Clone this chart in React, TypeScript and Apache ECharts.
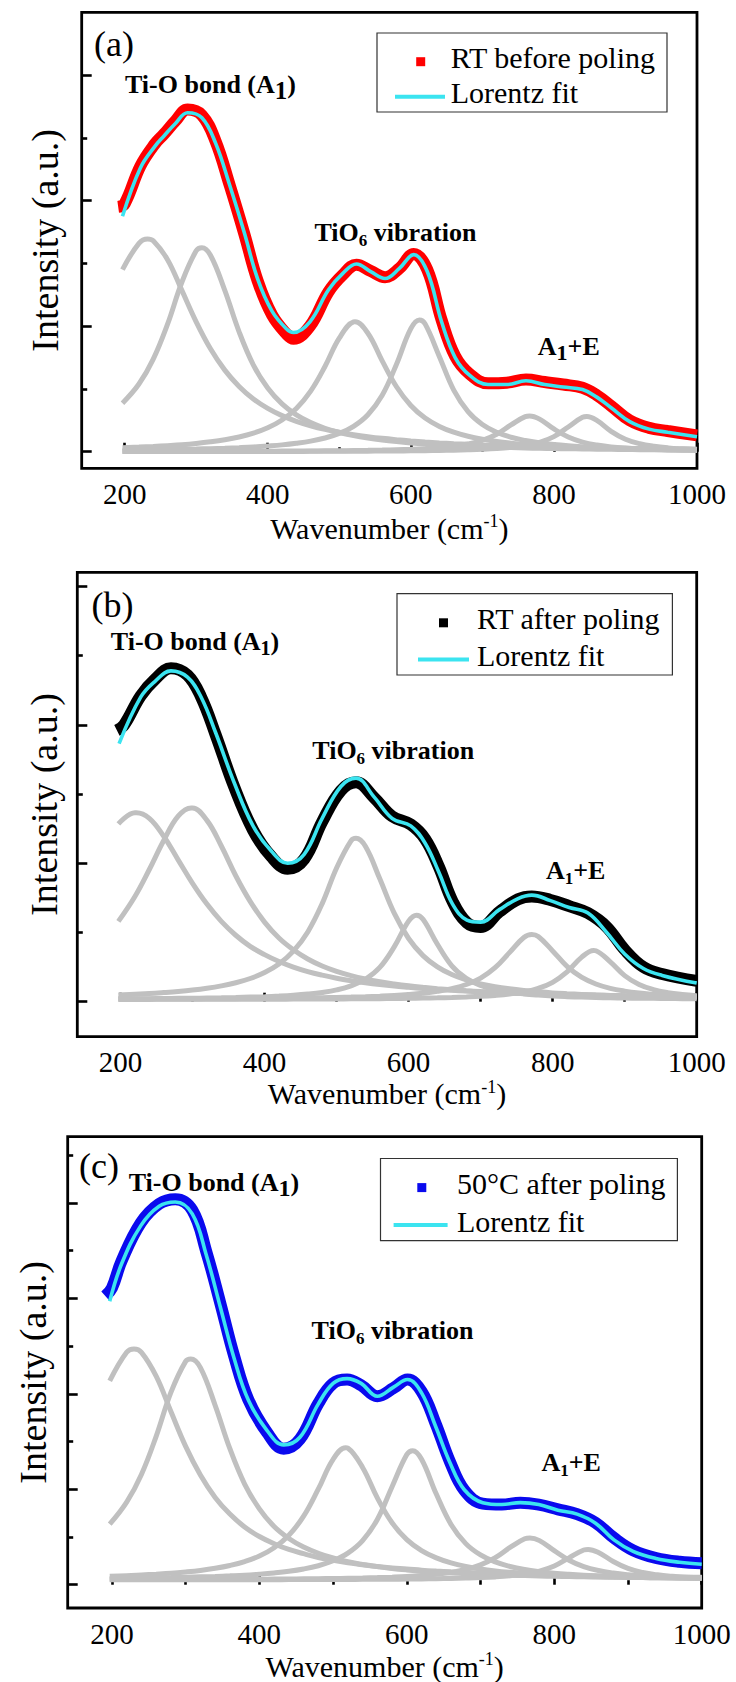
import React, { useEffect, useRef } from 'react';
import * as echarts from 'echarts';

const FONT = 'Liberation Serif';
const GRAY = '#c0c0c0';
const CYAN = '#3be4f0';

// shared wavenumber grid for the Lorentz components
const GRID_X = [197, 220, 240, 260, 280, 300, 320, 340, 360, 380, 400, 420, 440, 460, 480, 500, 520, 540, 560, 580, 600, 620, 640, 660, 680, 700, 720, 740, 760, 780, 800, 820, 840, 860, 880, 900, 920, 940, 960, 980, 1000];
const X_MAJOR = [200, 400, 600, 800, 1000];
const X_MINOR = [300, 500, 700, 900];

// ---------- panel (a) ----------
const a1 = [2.90, 3.32, 3.36, 3.06, 2.57, 2.07, 1.64, 1.30, 1.04, 0.84, 0.69, 0.575, 0.485, 0.414, 0.356, 0.310, 0.272, 0.240, 0.213, 0.191, 0.172, 0.155, 0.141, 0.129, 0.118, 0.108, 0.100, 0.092, 0.086, 0.080, 0.074, 0.069, 0.065, 0.061, 0.057, 0.054, 0.051, 0.048, 0.046, 0.043, 0.041];
const a2 = [0.773, 1.078, 1.475, 2.032, 2.70, 3.20, 3.13, 2.57, 1.91, 1.38, 1.015, 0.762, 0.587, 0.464, 0.374, 0.307, 0.256, 0.217, 0.186, 0.161, 0.140, 0.123, 0.110, 0.098, 0.088, 0.079, 0.072, 0.066, 0.060, 0.055, 0.051, 0.047, 0.044, 0.040, 0.038, 0.035, 0.033, 0.031, 0.029, 0.027, 0.026];
const a3 = [0.064, 0.074, 0.084, 0.097, 0.112, 0.132, 0.158, 0.191, 0.235, 0.296, 0.382, 0.506, 0.690, 0.966, 1.358, 1.809, 2.068, 1.888, 1.448, 1.035, 0.737, 0.537, 0.403, 0.311, 0.246, 0.199, 0.164, 0.137, 0.116, 0.100, 0.086, 0.076, 0.067, 0.059, 0.053, 0.048, 0.043, 0.039, 0.036, 0.033, 0.030];
const a4 = [0.024, 0.027, 0.030, 0.034, 0.038, 0.043, 0.049, 0.056, 0.065, 0.076, 0.091, 0.109, 0.135, 0.169, 0.219, 0.292, 0.405, 0.590, 0.899, 1.394, 1.961, 2.036, 1.514, 0.982, 0.640, 0.435, 0.311, 0.231, 0.178, 0.141, 0.114, 0.094, 0.079, 0.067, 0.058, 0.050, 0.044, 0.039, 0.035, 0.031, 0.028];
const a5 = [0.004, 0.004, 0.004, 0.005, 0.005, 0.005, 0.006, 0.006, 0.007, 0.008, 0.009, 0.010, 0.011, 0.012, 0.014, 0.016, 0.019, 0.022, 0.026, 0.032, 0.039, 0.049, 0.064, 0.087, 0.123, 0.181, 0.279, 0.427, 0.560, 0.520, 0.363, 0.234, 0.154, 0.106, 0.077, 0.058, 0.045, 0.036, 0.029, 0.024, 0.020];
const a6 = [0.002, 0.002, 0.002, 0.003, 0.003, 0.003, 0.003, 0.004, 0.004, 0.004, 0.005, 0.005, 0.005, 0.006, 0.007, 0.007, 0.008, 0.009, 0.011, 0.012, 0.014, 0.017, 0.020, 0.025, 0.031, 0.039, 0.051, 0.070, 0.100, 0.150, 0.241, 0.394, 0.548, 0.499, 0.325, 0.198, 0.127, 0.086, 0.061, 0.046, 0.035];
const aPeaks = [[232, 3.39], [308, 3.25], [522, 2.07], [612, 2.10], [766, 0.57], [846, 0.56]];
const fitA = [[197, 3.75], [222, 4.52], [242, 4.86], [255, 5.03], [271, 5.23], [288, 5.40], [308, 5.32], [327, 4.92], [347, 4.24], [367, 3.50], [386, 2.75], [406, 2.24], [426, 1.96], [436, 1.90], [459, 2.07], [485, 2.58], [505, 2.84], [524, 2.99], [544, 2.87], [564, 2.76], [584, 2.92], [604, 3.14], [623, 2.87], [643, 2.07], [662, 1.50], [682, 1.22], [708, 1.07], [734, 1.07], [761, 1.13], [787, 1.07], [813, 1.03], [840, 0.99], [860, 0.87], [880, 0.70], [906, 0.48], [933, 0.36], [959, 0.31], [1000, 0.24]];
const dataA = [[191, 3.90], [200, 3.95], [222, 4.55], [242, 4.90], [255, 5.06], [271, 5.27], [288, 5.45], [308, 5.36], [327, 4.95], [347, 4.24], [367, 3.48], [386, 2.72], [406, 2.18], [426, 1.88], [436, 1.80], [459, 2.00], [485, 2.55], [505, 2.82], [524, 2.98], [544, 2.88], [564, 2.78], [584, 2.92], [604, 3.15], [623, 2.90], [643, 2.10], [662, 1.52], [682, 1.24], [708, 1.09], [734, 1.10], [761, 1.15], [787, 1.11], [813, 1.07], [840, 1.02], [860, 0.90], [880, 0.73], [906, 0.50], [933, 0.38], [959, 0.33], [1000, 0.26]];

// ---------- panel (b) ----------
const b1 = [2.57, 2.73, 2.65, 2.39, 2.05, 1.71, 1.41, 1.16, 0.96, 0.80, 0.68, 0.58, 0.50, 0.435, 0.383, 0.339, 0.303, 0.273, 0.247, 0.225, 0.207, 0.190, 0.176, 0.164, 0.153, 0.143, 0.135, 0.127, 0.120, 0.114, 0.108, 0.103, 0.099, 0.095, 0.091, 0.087, 0.084, 0.081, 0.079, 0.076, 0.074];
const b2 = [1.16, 1.52, 1.91, 2.33, 2.68, 2.80, 2.62, 2.25, 1.82, 1.45, 1.15, 0.92, 0.75, 0.617, 0.516, 0.438, 0.377, 0.328, 0.288, 0.256, 0.229, 0.207, 0.188, 0.172, 0.158, 0.146, 0.136, 0.127, 0.119, 0.112, 0.105, 0.100, 0.095, 0.091, 0.087, 0.083, 0.080, 0.077, 0.074, 0.071, 0.069];
const b3 = [0.097, 0.108, 0.118, 0.132, 0.148, 0.168, 0.194, 0.228, 0.273, 0.335, 0.421, 0.545, 0.730, 1.008, 1.417, 1.933, 2.325, 2.245, 1.775, 1.279, 0.913, 0.666, 0.503, 0.392, 0.314, 0.258, 0.217, 0.186, 0.162, 0.143, 0.127, 0.115, 0.105, 0.096, 0.089, 0.083, 0.078, 0.074, 0.070, 0.066, 0.063];
const b4 = [0.041, 0.043, 0.044, 0.046, 0.048, 0.050, 0.053, 0.056, 0.060, 0.066, 0.072, 0.081, 0.093, 0.110, 0.134, 0.170, 0.228, 0.324, 0.495, 0.792, 1.164, 1.191, 0.830, 0.518, 0.337, 0.235, 0.175, 0.137, 0.112, 0.095, 0.082, 0.073, 0.066, 0.061, 0.056, 0.053, 0.050, 0.048, 0.046, 0.044, 0.043];
const b5 = [0.037, 0.038, 0.038, 0.039, 0.040, 0.040, 0.041, 0.042, 0.044, 0.045, 0.047, 0.049, 0.051, 0.054, 0.057, 0.061, 0.066, 0.072, 0.080, 0.090, 0.104, 0.123, 0.150, 0.189, 0.248, 0.341, 0.491, 0.709, 0.927, 0.941, 0.734, 0.510, 0.354, 0.256, 0.193, 0.153, 0.125, 0.106, 0.091, 0.081, 0.073];
const b6 = [0.033, 0.033, 0.033, 0.034, 0.034, 0.034, 0.034, 0.035, 0.035, 0.036, 0.036, 0.036, 0.037, 0.038, 0.039, 0.040, 0.041, 0.042, 0.044, 0.046, 0.049, 0.052, 0.056, 0.061, 0.068, 0.077, 0.091, 0.111, 0.142, 0.193, 0.280, 0.430, 0.640, 0.736, 0.576, 0.377, 0.248, 0.175, 0.131, 0.104, 0.086];
const bPeaks = [[222, 2.73], [298, 2.80], [527, 2.36], [611, 1.25], [771, 0.97], [857, 0.74]];
const fitB = [[198, 3.73], [228, 4.40], [248, 4.63], [270, 4.78], [293, 4.69], [312, 4.40], [332, 3.89], [358, 3.16], [384, 2.54], [409, 2.18], [432, 2.00], [455, 2.13], [480, 2.65], [506, 3.11], [527, 3.23], [552, 2.96], [577, 2.65], [603, 2.54], [623, 2.29], [642, 1.87], [661, 1.41], [681, 1.18], [700, 1.15], [726, 1.33], [752, 1.49], [771, 1.54], [797, 1.46], [823, 1.36], [849, 1.28], [875, 1.00], [900, 0.69], [926, 0.48], [952, 0.38], [1000, 0.27]];
const dataB = [[195, 3.92], [205, 4.00], [228, 4.42], [248, 4.66], [270, 4.82], [293, 4.72], [312, 4.40], [332, 3.86], [358, 3.10], [384, 2.48], [409, 2.10], [432, 1.92], [455, 2.06], [480, 2.60], [506, 3.05], [527, 3.17], [552, 2.95], [577, 2.68], [603, 2.56], [623, 2.35], [642, 1.95], [661, 1.45], [681, 1.14], [700, 1.08], [726, 1.30], [752, 1.48], [771, 1.52], [797, 1.47], [823, 1.38], [849, 1.28], [875, 1.08], [900, 0.75], [926, 0.50], [952, 0.40], [1000, 0.30]];

// ---------- panel (c) ----------
const c1 = [4.27, 4.87, 4.87, 4.37, 3.63, 2.90, 2.30, 1.83, 1.48, 1.21, 1.01, 0.86, 0.74, 0.65, 0.57, 0.51, 0.46, 0.42, 0.38, 0.35, 0.33, 0.305, 0.286, 0.270, 0.256, 0.243, 0.232, 0.222, 0.213, 0.205, 0.198, 0.192, 0.186, 0.181, 0.176, 0.171, 0.167, 0.164, 0.160, 0.157, 0.154];
const c2 = [1.27, 1.73, 2.31, 3.11, 4.03, 4.68, 4.55, 3.76, 2.85, 2.11, 1.59, 1.22, 0.97, 0.79, 0.66, 0.56, 0.48, 0.425, 0.38, 0.34, 0.31, 0.286, 0.265, 0.247, 0.232, 0.22, 0.209, 0.199, 0.191, 0.183, 0.177, 0.171, 0.166, 0.161, 0.157, 0.153, 0.150, 0.147, 0.144, 0.141, 0.139];
const c3 = [0.18, 0.19, 0.205, 0.221, 0.24, 0.267, 0.30, 0.344, 0.403, 0.484, 0.60, 0.774, 1.036, 1.436, 2.007, 2.628, 2.862, 2.458, 1.819, 1.298, 0.945, 0.715, 0.562, 0.457, 0.383, 0.329, 0.289, 0.259, 0.235, 0.216, 0.201, 0.188, 0.178, 0.169, 0.162, 0.156, 0.151, 0.146, 0.142, 0.139, 0.135];
const c4 = [0.132, 0.136, 0.140, 0.145, 0.150, 0.157, 0.165, 0.174, 0.186, 0.20, 0.221, 0.247, 0.281, 0.329, 0.398, 0.501, 0.662, 0.925, 1.368, 2.054, 2.727, 2.63, 1.90, 1.261, 0.861, 0.623, 0.477, 0.382, 0.318, 0.274, 0.241, 0.217, 0.198, 0.184, 0.172, 0.163, 0.155, 0.149, 0.144, 0.139, 0.135];
const c5 = [0.107, 0.107, 0.108, 0.108, 0.109, 0.110, 0.111, 0.112, 0.113, 0.114, 0.116, 0.118, 0.120, 0.123, 0.126, 0.130, 0.135, 0.141, 0.149, 0.159, 0.172, 0.191, 0.218, 0.258, 0.318, 0.415, 0.567, 0.781, 0.963, 0.924, 0.713, 0.514, 0.381, 0.297, 0.244, 0.209, 0.185, 0.168, 0.155, 0.146, 0.139];
const c6 = [0.103, 0.103, 0.103, 0.103, 0.104, 0.104, 0.104, 0.104, 0.105, 0.105, 0.106, 0.106, 0.107, 0.108, 0.108, 0.109, 0.110, 0.112, 0.114, 0.116, 0.118, 0.121, 0.126, 0.131, 0.139, 0.149, 0.164, 0.187, 0.223, 0.284, 0.391, 0.563, 0.727, 0.676, 0.487, 0.341, 0.256, 0.207, 0.177, 0.157, 0.144];
const cPeaks = [[230, 4.94], [307, 4.73], [517, 2.87], [608, 2.81], [767, 0.98], [846, 0.74]];
const fitC = [[197, 5.94], [213, 6.72], [239, 7.52], [264, 7.93], [286, 8.02], [309, 7.77], [328, 6.91], [347, 5.82], [366, 4.73], [385, 3.87], [410, 3.24], [433, 2.93], [455, 3.09], [480, 3.79], [500, 4.22], [519, 4.32], [538, 4.22], [560, 3.95], [582, 4.14], [601, 4.30], [620, 4.02], [639, 3.32], [659, 2.54], [678, 1.99], [703, 1.72], [729, 1.68], [754, 1.72], [779, 1.68], [805, 1.56], [831, 1.48], [856, 1.29], [881, 0.94], [907, 0.70], [938, 0.55], [970, 0.47], [1000, 0.43]];
const dataC = [[191, 6.05], [200, 6.22], [213, 6.78], [239, 7.58], [264, 7.98], [286, 8.08], [309, 7.85], [328, 6.98], [347, 5.90], [366, 4.78], [385, 3.88], [410, 3.20], [433, 2.85], [455, 3.05], [480, 3.80], [500, 4.22], [519, 4.30], [538, 4.18], [560, 3.95], [582, 4.12], [601, 4.30], [620, 4.05], [639, 3.38], [659, 2.56], [678, 1.98], [703, 1.70], [729, 1.68], [754, 1.72], [779, 1.68], [805, 1.58], [831, 1.48], [856, 1.30], [881, 0.98], [907, 0.72], [938, 0.56], [970, 0.48], [1000, 0.45]];

const panels = [
  {
    grid: { left: 81.7, top: 12.3, width: 615.3, height: 456 },
    yMin: -0.264, yMax: 7, yMajor: [0, 2, 4, 6], yMinor: [1, 3, 5],
    comps: [a1, a2, a3, a4, a5, a6], peaks: aPeaks, fit: fitA, data: dataA,
    color: '#ff0000', dataName: 'RT before poling',
    xNameGap: 44, yNameGap: 18,
  },
  {
    grid: { left: 77.3, top: 572.3, width: 619.4, height: 464.4 },
    yMin: -0.506, yMax: 6.205, yMajor: [0, 2, 4, 6], yMinor: [1, 3, 5],
    comps: [b1, b2, b3, b4, b5, b6], peaks: bPeaks, fit: fitB, data: dataB,
    color: '#000000', dataName: 'RT after poling',
    xNameGap: 34, yNameGap: 14,
  },
  {
    grid: { left: 67.7, top: 1136.7, width: 634, height: 471.6 },
    yMin: -0.488, yMax: 9.389, yMajor: [0, 2, 4, 6, 8], yMinor: [1, 3, 5, 7, 9],
    comps: [c1, c2, c3, c4, c5, c6], peaks: cPeaks, fit: fitC, data: dataC,
    color: '#0a0aee', dataName: '50°C after poling',
    xNameGap: 42, yNameGap: 16,
  },
];

function compPoints(ys: number[], peak: number[]) {
  const pts = GRID_X.map((x, i) => [x, ys[i]]);
  pts.push(peak);
  pts.sort((p, q) => p[0] - q[0]);
  return pts;
}

const tickStyle = { color: '#000', width: 2.6 };

function buildOption() {
  const grid: any[] = [];
  const xAxis: any[] = [];
  const yAxis: any[] = [];
  const series: any[] = [];
  panels.forEach((p, i) => {
    grid.push({ ...p.grid, show: true, borderColor: '#000', borderWidth: 2.8, backgroundColor: 'transparent', containLabel: false });
    xAxis.push({
      gridIndex: i, type: 'value', position: 'bottom', min: 140, max: 1000,
      axisLine: { show: false }, splitLine: { show: false },
      axisTick: { show: true, inside: true, length: 9, lineStyle: tickStyle, customValues: X_MAJOR },
      axisLabel: { show: true, customValues: X_MAJOR, margin: 11, fontFamily: FONT, fontSize: 29, color: '#000', showMinLabel: true, showMaxLabel: true, formatter: (v: number) => String(v) },
      name: 'Wavenumber (cm{sup|-1})', nameLocation: 'middle', nameGap: p.xNameGap,
      nameTextStyle: { fontFamily: FONT, fontSize: 30, color: '#000', rich: { sup: { fontFamily: FONT, fontSize: 18, color: '#000', padding: [0, 0, 14, 0] } } },
    });
    xAxis.push({
      gridIndex: i, type: 'value', position: 'bottom', offset: 0, min: 140, max: 1000,
      axisLine: { show: false }, splitLine: { show: false }, axisLabel: { show: false },
      axisTick: { show: true, inside: true, length: 4.5, lineStyle: tickStyle, customValues: X_MINOR },
    });
    yAxis.push({
      gridIndex: i, type: 'value', position: 'left', min: p.yMin, max: p.yMax,
      axisLine: { show: false }, splitLine: { show: false }, axisLabel: { show: false },
      axisTick: { show: true, inside: true, length: 10, lineStyle: tickStyle, customValues: p.yMajor },
      name: 'Intensity (a.u.)', nameLocation: 'middle', nameGap: p.yNameGap, nameRotate: 90,
      nameTextStyle: { fontFamily: FONT, fontSize: 38, color: '#000' },
    });
    yAxis.push({
      gridIndex: i, type: 'value', position: 'left', offset: 0, min: p.yMin, max: p.yMax,
      axisLine: { show: false }, splitLine: { show: false }, axisLabel: { show: false },
      axisTick: { show: true, inside: true, length: 5.5, lineStyle: tickStyle, customValues: p.yMinor },
    });
    p.comps.forEach((ys, k) => {
      series.push({
        type: 'line', name: `Peak ${k + 1}`, xAxisIndex: 2 * i, yAxisIndex: 2 * i,
        data: compPoints(ys, p.peaks[k]), showSymbol: false, symbol: 'none', smooth: 0.4, silent: true, z: 2,
        lineStyle: { color: GRAY, width: 5 },
      });
    });
    series.push({
      type: 'line', name: p.dataName, xAxisIndex: 2 * i, yAxisIndex: 2 * i,
      data: p.data, showSymbol: false, symbol: 'none', smooth: 0.4, silent: true, z: 3,
      lineStyle: { color: p.color, width: 12 },
    });
    series.push({
      type: 'line', name: 'Lorentz fit', xAxisIndex: 2 * i, yAxisIndex: 2 * i,
      data: p.fit, showSymbol: false, symbol: 'none', smooth: 0.4, silent: true, z: 4,
      lineStyle: { color: CYAN, width: 3.6 },
    });
  });

  const txt = (x: number, y: number, text: string, fontSize: number, opts: any = {}) => ({
    type: 'text', x, y, silent: true, z: 100,
    style: {
      text, fontFamily: FONT, fontSize, fill: '#000',
      fontWeight: opts.bold ? 'bold' : 'normal',
      align: opts.align || 'left', verticalAlign: 'middle',
      textAlign: opts.align || 'left', textVerticalAlign: 'middle',
      rich: opts.rich,
    },
  });
  const sub = (size: number, pad: number, bold = true) => ({
    s: { fontFamily: FONT, fontSize: size, fontWeight: bold ? 'bold' : 'normal', fill: '#000', padding: [pad, 0, 0, 0] },
  });

  const legend = (bx: number, by: number, bw: number, bh: number, mx: number, my: number, color: string, label: string, tx: number, ty1: number, lx1: number, lx2: number, ly: number, ty2: number) => [
    { type: 'rect', shape: { x: bx, y: by, width: bw, height: bh }, style: { fill: '#fff', stroke: '#333', lineWidth: 1.2 }, z: 90, silent: true },
    { type: 'rect', shape: { x: mx - 4.5, y: my - 4.5, width: 9, height: 9 }, style: { fill: color }, z: 91, silent: true },
    { type: 'line', shape: { x1: lx1, y1: ly, x2: lx2, y2: ly }, style: { stroke: CYAN, lineWidth: 4 }, z: 91, silent: true },
    txt(tx, ty1, label, 30),
    txt(tx, ty2, 'Lorentz fit', 30),
  ];

  const graphic: any[] = [
    txt(114, 43.5, '(a)', 36, { align: 'center' }),
    txt(112.5, 605, '(b)', 36, { align: 'center' }),
    txt(99, 1166, '(c)', 36, { align: 'center' }),

    txt(125, 84.5, 'Ti-O bond (A{s|1})', 26, { bold: true, rich: sub(25, 12) }),
    txt(314.5, 232, 'TiO{s|6} vibration', 26, { bold: true, rich: sub(17, 16) }),
    txt(537.8, 346.7, 'A{s|1}+E', 26, { bold: true, rich: sub(22, 12) }),

    txt(110.8, 641.3, 'Ti-O bond (A{s|1})', 26, { bold: true, rich: sub(20, 14) }),
    txt(312.3, 750.6, 'TiO{s|6} vibration', 26, { bold: true, rich: sub(17, 16) }),
    txt(545.9, 870.2, 'A{s|1}+E', 26, { bold: true, rich: sub(17, 16) }),

    txt(128.7, 1182, 'Ti-O bond (A{s|1})', 26, { bold: true, rich: sub(24, 12) }),
    txt(311.6, 1330, 'TiO{s|6} vibration', 26, { bold: true, rich: sub(17, 16) }),
    txt(541.4, 1462.9, 'A{s|1}+E', 26, { bold: true, rich: sub(17, 16) }),

    ...legend(377, 33, 290, 79, 420.7, 61.7, '#ff0000', 'RT before poling', 450.7, 57.5, 395, 445, 96.7, 92.5),
    ...legend(397, 593.6, 275.4, 81.4, 443.5, 622.8, '#000000', 'RT after poling', 477, 618.5, 418, 469, 659.6, 655.5),
    ...legend(380.5, 1158.5, 296.9, 82.1, 421.8, 1187.6, '#0a0aee', '50°C after poling', 457, 1183.5, 393.6, 447.6, 1225, 1221),
  ];

  return { animation: false, backgroundColor: '#fff', textStyle: { fontFamily: FONT }, grid, xAxis, yAxis, series, graphic };
}

export default function App() {
  const ref = useRef<HTMLDivElement>(null);
  useEffect(() => {
    if (!ref.current) return;
    const chart = echarts.init(ref.current, null, { renderer: 'svg', width: 736, height: 1682 });
    chart.setOption(buildOption() as any);
    return () => chart.dispose();
  }, []);
  return <div ref={ref} style={{ position: 'absolute', left: 0, top: 0, width: 736, height: 1682, background: '#fff' }} />;
}
